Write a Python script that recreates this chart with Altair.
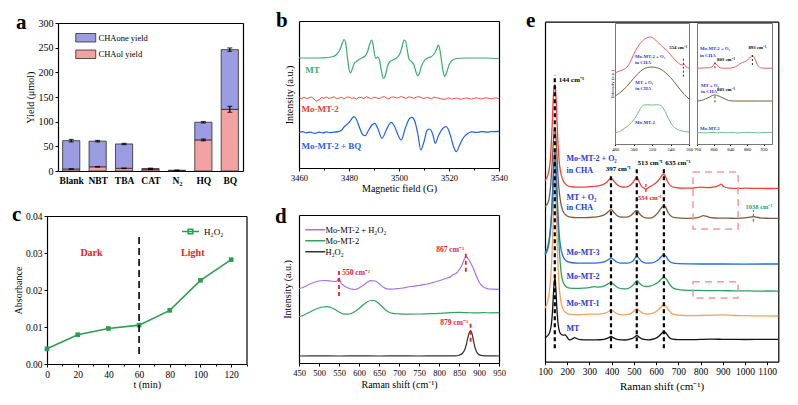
import altair as alt
import pandas as pd

W, H = 798, 405
SERIF = "Liberation Serif"

# ---------------- (a) product yields under scavengers ----------------
a_cats = ["Blank", "NBT", "TBA", "CAT", "N₂", "HQ", "BQ"]
a_total = [61.5, 60.5, 54.8, 4.8, 1.5, 98.8, 246.0]
a_ol = [4.0, 8.5, 5.5, 3.5, 0.5, 63.0, 125.0]
a_total_err = [2.5, 1.5, 1.2, 1.0, 0.4, 1.5, 3.5]
a_ol_err = [0.6, 0.6, 0.6, 0.5, 0.3, 1.8, 6.0]
a_products = ["CHAone yield", "CHAol yield"]
a_fill = ["#9c9ce2", "#f3a2a2"]

# ---------------- (b) EPR spectra (field G, intensity a.u.) ----------------
b_mt = [(3460, 110), (3465, 110), (3470, 110.2), (3473, 111), (3475, 113.5), (3476.5, 119),
        (3477.5, 126), (3478, 128.5), (3478.6, 126), (3479.3, 112), (3480, 99), (3480.6, 95),
        (3481.3, 99), (3482, 104), (3483, 106.5), (3484, 108.5), (3485.5, 110.5), (3486.5, 112),
        (3487.5, 117), (3488.3, 124), (3489, 128), (3489.6, 124), (3490.2, 114), (3490.8, 109.5),
        (3491.5, 111), (3492.2, 108), (3493, 97), (3493.8, 89.5), (3494.5, 92), (3495.3, 101),
        (3496.2, 106), (3497.5, 108), (3499, 110), (3500.3, 114), (3501.2, 121), (3502, 128),
        (3502.6, 127), (3503.3, 118), (3504, 109), (3505, 106.5), (3506, 103), (3506.8, 96),
        (3507.5, 92), (3508.2, 95), (3509, 102), (3510.2, 107.5), (3511.5, 110), (3513, 111.5),
        (3514.3, 115), (3515.2, 120), (3515.7, 123), (3516.3, 119), (3517, 107), (3517.7, 96),
        (3518.3, 91.5), (3519, 95), (3520, 103), (3521.2, 107.5), (3523, 109.5), (3526, 110),
        (3530, 110), (3535, 110), (3540, 109.5)]
b_momt2_start = 3460
b_momt2 = [70.5, 69.2, 70.8, 69.5, 70.1, 71.0, 68.9, 66.8, 68.2, 70.4,
           69.8, 70.9, 69.6, 70.3, 71.2, 69.4, 70.0, 70.7, 69.3, 70.6,
           71.1, 69.7, 70.2, 69.0, 70.8, 70.4, 69.5, 71.3, 70.1, 69.6,
           70.9, 70.2, 69.4, 70.7, 71.4, 70.0, 69.5, 70.8, 71.0, 69.9,
           70.6, 71.5, 70.3, 69.8, 71.2, 70.5, 69.7, 70.9, 71.3, 70.2,
           69.4, 70.6, 70.1, 69.3, 70.8, 70.4, 69.6, 69.1, 68.5, 69.4,
           70.2, 68.8, 69.5, 70.0, 69.2, 68.7, 69.6, 70.1, 69.4, 68.9,
           69.7, 70.3, 69.5, 69.0, 69.8, 70.2, 69.6, 69.1, 69.9, 70.1, 69.4]
b_bq = [(3460, 35.5), (3461.5, 36.3), (3463, 35.2), (3464.5, 35.9), (3466.3, 34.6), (3468, 35.9),
        (3469.5, 35.1), (3471, 36.2), (3472.5, 35.4), (3474.3, 35.8), (3476, 36.6), (3476.9, 37.4),
        (3478, 41), (3478.9, 43), (3480.3, 46.3), (3481.3, 50), (3482, 51.3), (3482.9, 49),
        (3484.3, 39.7), (3485.6, 33), (3486.5, 32.3), (3487.9, 38), (3489.2, 43), (3490.3, 44.7),
        (3491.6, 39), (3493.2, 29.7), (3494.9, 38), (3496.9, 45.7), (3498.3, 41.3), (3499.6, 33),
        (3500.9, 28), (3502.5, 39.7), (3504.3, 49.7), (3505.2, 50.7), (3506.3, 47), (3507.6, 33),
        (3508.7, 18), (3510, 26.3), (3511.3, 38), (3512.3, 39), (3513.6, 33), (3514.5, 24.7),
        (3515.9, 33), (3517.6, 39.7), (3518.9, 41.3), (3520.3, 34.7), (3521.6, 23), (3522.9, 16.3),
        (3524.3, 23), (3525.6, 29.7), (3527.6, 34.7), (3529, 36.2), (3531, 35.5), (3533, 36.4),
        (3535.6, 35.8), (3537, 36.5), (3538.9, 36.3), (3540, 36.8)]

# ---------------- (c) H2O2 detection ----------------
c_time = [0, 20, 40, 60, 80, 100, 120]
c_absorbance = [0.0041, 0.0079, 0.0096, 0.0105, 0.0145, 0.0226, 0.0282]

# ---------------- (d) Raman, H2O2 adsorption ----------------
d_momt2_h2o2 = [(450, 74.5), (460, 75.5), (470, 77.5), (480, 79.5), (490, 81), (500, 82), (510, 82.5),
                (520, 82.3), (530, 82), (540, 81.5), (545, 82), (548, 84), (550, 85), (552, 83.5),
                (555, 80), (560, 78), (570, 75.5), (580, 74), (590, 73.5), (600, 75), (610, 77.5),
                (620, 80.5), (630, 82.3), (640, 82), (650, 79.5), (660, 76), (670, 74.2), (680, 73.8),
                (690, 74.2), (700, 74.5), (710, 75), (720, 75.8), (730, 76.5), (740, 76.8), (750, 77.5),
                (760, 78.3), (770, 79), (780, 80), (790, 81), (800, 82.2), (810, 83.5), (820, 85),
                (830, 86.5), (835, 88.5), (840, 89), (845, 90.5), (850, 93), (855, 96), (860, 100.5),
                (864, 104.5), (867, 106.3), (871, 105.3), (876, 102.5), (881, 98.5), (886, 94.5),
                (891, 89.5), (896, 84.5), (901, 80.5), (908, 77), (916, 75), (925, 74), (935, 73.8),
                (950, 73.6)]
d_momt2 = [(450, 46.5), (460, 47.5), (470, 49.5), (480, 51.5), (490, 53.5), (500, 55), (510, 56),
           (520, 56.3), (530, 55.5), (540, 53.5), (550, 51), (560, 49.2), (570, 48.8), (580, 49.5),
           (590, 51.5), (600, 54.5), (610, 58), (620, 61), (630, 62.5), (637, 62.5), (645, 61),
           (655, 57.5), (665, 53.5), (675, 50.8), (685, 49.6), (700, 49.2), (720, 48.9), (750, 49),
           (780, 49.3), (800, 49.7), (820, 50.2), (850, 50.6), (870, 50.4), (890, 50.1), (910, 50.3),
           (930, 50.2), (950, 50.3)]
d_h2o2 = [(450, 7), (500, 7.1), (550, 7), (600, 7.1), (650, 7), (700, 7.1), (750, 7), (800, 7.1),
          (840, 7.2), (850, 7.8), (858, 9.5), (864, 13), (868, 18), (872, 25), (876, 30.5), (879, 32.3),
          (882, 30), (885, 25), (889, 17), (893, 12), (898, 9), (905, 7.6), (915, 7.2), (930, 7.1),
          (950, 7)]
d_series = ["Mo-MT-2 + H₂O₂", "Mo-MT-2", "H₂O₂"]
d_colors = ["#a873e8", "#2fa35f", "#333333"]

# ---------------- (e) Raman, main spectra ----------------
e_momt2_o2 = [(100, 181), (115, 188), (125, 205), (132, 235), (137, 262), (141, 274), (144, 277),
              (147, 273), (151, 258), (156, 230), (162, 205), (170, 190), (180, 182), (195, 177),
              (215, 175), (240, 174.5), (270, 174.5), (300, 175), (330, 175.5), (360, 177), (380, 180),
              (392, 183), (398, 183.5), (405, 182), (420, 178), (440, 175), (460, 174.5), (480, 176),
              (495, 179), (507, 183), (513, 184.5), (520, 182), (530, 177), (545, 173.5), (554, 172.5),
              (565, 174), (580, 176), (600, 179), (615, 182.5), (625, 186), (633, 187.5), (640, 186),
              (650, 181), (665, 176), (690, 174), (720, 173.5), (760, 173.5), (800, 174.5), (830, 174),
              (860, 174.5), (880, 176), (893, 177.5), (905, 175), (930, 173.5), (970, 173.3),
              (1000, 173.5), (1050, 173.3), (1100, 173.2), (1150, 173.4)]
e_mt_o2 = [(100, 155), (115, 160), (125, 175), (132, 198), (137, 218), (141, 230), (144, 233.7),
           (147, 231), (151, 218), (156, 196), (162, 175), (170, 160), (180, 151), (195, 146.5),
           (215, 144.5), (240, 144), (280, 144), (320, 144.5), (350, 145.5), (375, 148), (390, 151),
           (398, 152), (408, 150), (425, 146), (445, 144.5), (465, 144.5), (485, 146), (500, 149),
           (510, 151), (516, 151), (525, 148), (540, 145), (555, 143.8), (570, 143.5), (590, 145),
           (605, 148), (618, 152), (628, 155), (635, 156), (642, 155), (652, 150), (665, 146),
           (685, 144), (710, 143.5), (740, 143.4), (770, 143.5), (795, 144.5), (812, 146), (825, 145.5),
           (845, 144), (880, 143.5), (920, 143.5), (960, 143.4), (1000, 143.8), (1025, 144.5),
           (1038, 145.2), (1050, 144.5), (1075, 143.6), (1110, 143.4), (1150, 143.3)]
e_momt3 = [(100, 107), (112, 112), (122, 125), (130, 148), (136, 180), (140, 200), (144, 210),
           (148, 203), (152, 183), (157, 155), (163, 130), (170, 115), (180, 106), (195, 101),
           (215, 99.2), (250, 98.6), (300, 98.6), (340, 98.8), (370, 100), (388, 102.5), (397, 103.8),
           (406, 102.5), (420, 100), (440, 98.6), (470, 98.5), (495, 100.5), (507, 104), (514, 105.7),
           (522, 103.5), (535, 100.2), (555, 98.6), (580, 98.8), (600, 100.5), (615, 103), (627, 106),
           (635, 107.4), (643, 106), (655, 101.5), (670, 99), (700, 98), (750, 97.8), (800, 97.7),
           (900, 97.7), (1000, 97.6), (1100, 97.7), (1150, 97.7)]
e_momt2 = [(100, 108), (112, 115), (122, 128), (130, 150), (136, 178), (140, 195), (144, 201),
           (148, 195), (152, 176), (157, 148), (163, 118), (170, 95), (178, 82), (190, 76), (210, 73.6),
           (240, 73.3), (270, 73.5), (300, 74), (320, 75), (340, 74.5), (365, 75.5), (385, 78),
           (397, 79.2), (408, 77.5), (425, 74.5), (445, 73), (465, 72.8), (485, 74.5), (500, 77.5),
           (510, 80.5), (515, 81), (523, 79), (535, 76.5), (555, 75.2), (575, 75.8), (595, 77.5),
           (612, 80), (625, 83), (635, 84.4), (645, 83), (658, 78.5), (672, 74.5), (690, 72.5),
           (720, 71.5), (760, 71.2), (800, 71.3), (850, 71), (900, 71.1), (950, 70.8), (1000, 70.9),
           (1050, 70.6), (1100, 70.7), (1150, 70.5)]
e_momt1 = [(100, 53.7), (112, 60), (122, 75), (130, 100), (136, 135), (140, 170), (144, 188),
           (148, 175), (152, 140), (157, 105), (163, 78), (170, 62), (180, 53), (195, 49), (215, 47.3),
           (250, 47), (300, 47.5), (340, 47.5), (370, 48.5), (388, 50.5), (397, 51.8), (407, 50.5),
           (425, 47.8), (450, 46.8), (480, 47.5), (500, 50.5), (513, 53.4), (522, 51.5), (540, 48.5),
           (560, 47.5), (585, 48.5), (605, 51), (622, 54.5), (635, 57.4), (645, 55.5), (658, 51),
           (675, 47.5), (700, 46.5), (750, 46), (800, 46.2), (850, 46.5), (900, 46.8), (950, 46.2),
           (1000, 46), (1050, 45.9), (1100, 45.8), (1150, 45.7)]
e_mt = [(100, 23.7), (112, 26), (122, 30), (130, 40), (135, 55), (139, 72), (142, 81), (144, 83.4),
        (146, 82), (149, 72), (153, 55), (158, 40), (163, 32), (170, 28), (180, 26.5), (190, 26.8),
        (198, 25), (206, 22.5), (214, 21.8), (224, 23), (234, 24), (244, 23), (260, 22), (290, 21.8),
        (330, 21.8), (365, 22.3), (385, 23.8), (397, 25.2), (408, 23.8), (430, 22), (460, 21.7),
        (490, 23), (505, 25), (513, 26.2), (522, 24.8), (540, 22.5), (565, 21.8), (595, 23), (615, 26),
        (627, 28.8), (635, 30.3), (645, 28.5), (658, 24.5), (675, 22.5), (700, 22), (750, 22),
        (800, 22.3), (850, 22.5), (900, 22.4), (950, 22.3), (1000, 22.2), (1050, 22.3), (1100, 22.4),
        (1150, 22.4)]
e_peaks = [144, 397, 513, 635]

# inset 1 (480-560 cm-1)
e1_momt2_o2 = [(480, 71), (485, 73), (490, 75), (494, 78), (498, 85), (502, 93), (506, 99), (510, 103.5),
               (514, 106), (518, 107), (522, 105.5), (526, 102), (530, 98.5), (534, 95), (538, 91.5),
               (542, 87), (546, 83), (550, 80), (553, 79), (555, 79.5), (557, 77), (560, 76)]
e1_mt_o2 = [(480, 48), (485, 51), (490, 55), (495, 60), (500, 65.5), (505, 70.5), (510, 74.5), (515, 76.5),
            (520, 77), (525, 76.3), (530, 74.5), (535, 71), (540, 66.5), (545, 61), (550, 55), (555, 49.5),
            (560, 45)]
e1_momt2 = [(480, 11), (485, 12.5), (490, 15.5), (495, 19), (500, 24), (503, 28), (506, 33), (509, 37.5),
            (511, 39), (515, 39.2), (520, 39), (525, 39.2), (529, 38.8), (532, 36), (535, 31), (538, 25),
            (541, 20), (545, 16), (550, 13.5), (555, 12.5), (560, 12)]
# inset 2 (760-940 cm-1)
e2_momt2_o2 = [(760, 75.8), (775, 76), (790, 76.3), (797, 77.5), (800, 79.5), (803, 80.7), (807, 79.5),
               (812, 77), (820, 75.8), (835, 75.8), (848, 76.5), (858, 78.5), (866, 81), (874, 82.3),
               (882, 84), (888, 87), (893, 88.3), (898, 86), (903, 81), (908, 77.5), (915, 76), (925, 75.8),
               (940, 75.8)]
e2_mt_o2 = [(760, 43), (770, 43.5), (780, 45), (790, 47), (797, 48.5), (803, 49), (810, 48.3), (820, 46.5),
            (830, 44.5), (840, 43.2), (850, 43), (880, 43), (910, 43), (940, 43)]
e2_momt2 = [(760, 11.2), (770, 11.5), (780, 11.0), (790, 11.4), (800, 11.6), (810, 11.1), (820, 11.5),
            (830, 11.2), (840, 11.6), (850, 11.3), (860, 11.0), (870, 11.5), (880, 11.7), (890, 11.3),
            (900, 11.4), (910, 11.1), (920, 11.6), (930, 11.4), (940, 11.5)]

# ---------------- panel geometry (data domains -> pixel ranges) ----------------
P = {
    "a": dict(xd=None, xr=[58, 243], yd=[0, 300], yr=[171, 23]),
    "b": dict(xd=[3460, 3540], xr=[299, 499], yd=[0, 147], yr=[168, 21]),
    "c": dict(xd=[0, 130], xr=[47, 246.5], yd=[0, 0.04], yr=[364, 216]),
    "d": dict(xd=[450, 950], xr=[299, 499], yd=[0, 148], yr=[363, 215]),
    "e": dict(xd=[100, 1150], xr=[545, 778.3], yd=[0, 340], yr=[361.7, 21.7]),
    "e1": dict(xd=[480, 560], xr=[615, 689], yd=[0, 121], yr=[144, 23]),
    "e2": dict(xd=[760, 940], xr=[697, 772], yd=[0, 121], yr=[144, 23]),
}

RED_TXT = "#e8231f"
BLUE_TXT = "#2338d8"


def xsc(p):
    return alt.Scale(domain=P[p]["xd"], range=P[p]["xr"], nice=False, zero=False)


def ysc(p):
    return alt.Scale(domain=P[p]["yd"], range=P[p]["yr"], nice=False, zero=False)


def xy(p, xf="x", yf="y"):
    return dict(x=alt.X(f"{xf}:Q", scale=xsc(p), axis=None),
                y=alt.Y(f"{yf}:Q", scale=ysc(p), axis=None))


def curve(p, pts, color, width=1.2, interp="monotone", dash=None):
    kw = dict(color=color, strokeWidth=width, interpolate=interp)
    if dash:
        kw["strokeDash"] = dash
    return alt.Chart(pd.DataFrame(pts, columns=["x", "y"])).mark_line(**kw).encode(**xy(p))


def vmarks(p, rows, color, width, dash):
    df = pd.DataFrame(rows, columns=["x", "y", "y2"])
    return alt.Chart(df).mark_rule(color=color, strokeWidth=width, strokeDash=dash).encode(
        **xy(p), y2="y2:Q")


def notes(p, rows, size, align="left", weight="bold"):
    df = pd.DataFrame(rows, columns=["x", "y", "t", "c"])
    return alt.Chart(df).mark_text(font=SERIF, fontSize=size, fontWeight=weight, align=align,
                                   baseline="middle").encode(
        **xy(p), text="t:N", color=alt.Color("c:N", scale=None))


def axes(p, xaxis, yaxis):
    df = pd.DataFrame({"x": [P[p]["xd"][0]], "y": [P[p]["yd"][0]]})
    return alt.Chart(df).mark_point(opacity=0).encode(
        x=alt.X("x:Q", scale=xsc(p), axis=xaxis), y=alt.Y("y:Q", scale=ysc(p), axis=yaxis))


def hidden_axis(orient, offset, color="black", width=1.2):
    return alt.Axis(orient=orient, offset=offset, labels=False, ticks=False, title=None,
                    domainColor=color, domainWidth=width)


def frame(p, color="black", width=1.2):
    top = min(P[p]["yr"])
    right = P[p]["xr"][1]
    return axes(p, hidden_axis("top", -top, color, width), hidden_axis("right", right - W, color, width))


def minor_ticks(p, values, size=2):
    ax = alt.Axis(orient="bottom", offset=bottom(p), values=values, labels=False, tickSize=size,
                  domain=False, title=None)
    return axes(p, ax, None)


def bottom(p):
    return max(P[p]["yr"]) - H


def left(p):
    return -P[p]["xr"][0]


layers = []

# ================= panel a =================
a_rows = []
for cat, tot, ol in zip(a_cats, a_total, a_ol):
    a_rows.append(dict(cat=cat, product="CHAol yield", lo=0.0, hi=ol))
    a_rows.append(dict(cat=cat, product="CHAone yield", lo=ol, hi=tot))
a_df = pd.DataFrame(a_rows)

a_err_rows, a_cap_rows = [], []
for cat, tot, ol, et, eo in zip(a_cats, a_total, a_ol, a_total_err, a_ol_err):
    for v, e in ((tot, et), (ol, eo)):
        a_err_rows.append(dict(cat=cat, lo=v - e, hi=v + e))
        a_cap_rows.append(dict(cat=cat, v=v - e))
        a_cap_rows.append(dict(cat=cat, v=v + e))


def a_x(axis=None):
    return alt.X("cat:N", sort=a_cats, axis=axis,
                 scale=alt.Scale(domain=a_cats, range=P["a"]["xr"], paddingInner=0.35, paddingOuter=0.175))


def a_y(field, axis=None):
    return alt.Y(field, axis=axis, scale=alt.Scale(domain=P["a"]["yd"], range=P["a"]["yr"], nice=False, zero=False))


layers.append(alt.Chart(a_df).mark_bar(stroke="#2b2b2b", strokeWidth=0.8).encode(
    x=a_x(), y=a_y("hi:Q"), y2="lo:Q",
    color=alt.Color("product:N", scale=alt.Scale(domain=a_products, range=a_fill),
                    legend=alt.Legend(orient="none", legendX=81.5, legendY=33.5, title=None,
                                      symbolType="M-4,-1.7L4,-1.7L4,1.7L-4,1.7Z", symbolSize=25,
                                      symbolStrokeColor="#2b2b2b", symbolStrokeWidth=0.8,
                                      labelFontSize=8.5, labelOffset=8.5, rowPadding=3.5, padding=0))))
layers.append(alt.Chart(pd.DataFrame(a_err_rows)).mark_rule(color="black", strokeWidth=1.2).encode(
    x=a_x(), y=a_y("lo:Q"), y2="hi:Q"))
layers.append(alt.Chart(pd.DataFrame(a_cap_rows)).mark_tick(color="black", thickness=1.2, size=5).encode(
    x=a_x(), y=a_y("v:Q")))
a_axis_df = pd.DataFrame({"cat": a_cats, "v": [0] * len(a_cats)})
layers.append(alt.Chart(a_axis_df).mark_point(opacity=0).encode(
    x=a_x(alt.Axis(orient="bottom", offset=bottom("a"), ticks=False, labelAngle=0, labelFontWeight="bold",
                   labelFontSize=9.5, labelPadding=4, title=None)),
    y=a_y("v:Q", alt.Axis(orient="left", offset=left("a"), values=[0, 50, 100, 150, 200, 250, 300],
                          tickSize=3, labelFontSize=10, labelPadding=2, title="Yield (μmol)",
                          titleFontSize=10, titlePadding=3))))
layers.append(alt.Chart(a_axis_df).mark_point(opacity=0).encode(
    x=a_x(hidden_axis("top", -min(P["a"]["yr"]))),
    y=a_y("v:Q", hidden_axis("right", P["a"]["xr"][1] - W))))

# ================= panel b =================
b_red_pts = [(b_momt2_start + i, v) for i, v in enumerate(b_momt2)]
layers.append(curve("b", b_mt, "#3aae6b", 1.2))
layers.append(curve("b", b_red_pts, "#ee3b36", 0.9, interp="linear"))
layers.append(curve("b", b_bq, "#1f63dc", 1.2))
layers.append(notes("b", [(3462.5, 98.5, "MT", "#3aae6b"),
                          (3461, 59.5, "Mo-MT-2", "#ee3b36"),
                          (3461, 22, "Mo-MT-2 + BQ", "#1f63dc")], 9))
layers.append(axes("b",
                   alt.Axis(orient="bottom", offset=bottom("b"), values=[3460, 3480, 3500, 3520, 3540],
                            format="d", tickSize=3, labelFontSize=8.5, labelPadding=2,
                            title="Magnetic field (G)", titleFontSize=10, titlePadding=2),
                   alt.Axis(orient="left", offset=left("b"), labels=False, ticks=False,
                            title="Intensity (a.u.)", titleFontSize=10, titlePadding=5)))
layers.append(minor_ticks("b", [3470, 3490, 3510, 3530]))
layers.append(frame("b"))

# ================= panel c =================
c_green = "#2b9e52"
c_df = pd.DataFrame({"x": c_time, "y": c_absorbance, "s": ["H₂O₂"] * len(c_time)})
layers.append(alt.Chart(c_df).mark_line(strokeWidth=1.6).encode(
    **xy("c"),
    color=alt.Color("s:N", scale=alt.Scale(domain=["H₂O₂"], range=[c_green]),
                    legend=alt.Legend(orient="none", legendX=186, legendY=227, title=None,
                                      symbolType="M-3.4,0L3.4,0M-0.9,-0.9L0.9,-0.9L0.9,0.9L-0.9,0.9Z",
                                      symbolSize=25, symbolStrokeWidth=1.6, labelFontSize=9,
                                      labelOffset=9, padding=0))))
layers.append(alt.Chart(c_df).mark_point(shape="square", filled=True, size=22, opacity=1,
                                         color=c_green).encode(**xy("c")))
layers.append(vmarks("c", [(60, 0.0027, 0.0349)], "black", 1.6, [7, 4]))
layers.append(notes("c", [(29, 0.030, "Dark", RED_TXT), (95, 0.030, "Light", RED_TXT)], 10, align="center"))
layers.append(axes("c",
                   alt.Axis(orient="bottom", offset=bottom("c"), values=[0, 20, 40, 60, 80, 100, 120],
                            format="d", tickSize=3, labelFontSize=9.5, labelPadding=2, title="t (min)",
                            titleFontSize=10, titlePadding=1),
                   alt.Axis(orient="left", offset=left("c"), values=[0, 0.01, 0.02, 0.03, 0.04], format=".2f",
                            tickSize=3, labelFontSize=9.5, labelPadding=2, title="Absorbance",
                            titleFontSize=10, titlePadding=2)))
layers.append(minor_ticks("c", [10, 30, 50, 70, 90, 110, 130]))
layers.append(frame("c"))

# ================= panel d =================
d_rows = []
for name, pts in zip(d_series, [d_momt2_h2o2, d_momt2, d_h2o2]):
    for x, y in pts:
        d_rows.append(dict(x=x, y=y, s=name))
layers.append(alt.Chart(pd.DataFrame(d_rows)).mark_line(strokeWidth=1.2, interpolate="monotone").encode(
    **xy("d"),
    color=alt.Color("s:N", scale=alt.Scale(domain=d_series, range=d_colors),
                    legend=alt.Legend(orient="none", legendX=311, legendY=225.5, title=None,
                                      symbolType="M-4,0L4,0", symbolSize=25, symbolStrokeWidth=1.5,
                                      labelFontSize=8.5, labelOffset=6, rowPadding=2, padding=0))))
layers.append(vmarks("d", [(550, 67, 94.7), (867, 91.3, 109.7), (879, 21.3, 39.7)], RED_TXT, 1.8, [4, 3]))
layers.append(notes("d", [(558, 89.7, "550 cm⁻¹", RED_TXT)], 7.5))
layers.append(notes("d", [(863, 113.5, "867 cm⁻¹", RED_TXT), (873, 40.3, "879 cm⁻¹", RED_TXT)], 7.5,
                    align="right"))
layers.append(axes("d",
                   alt.Axis(orient="bottom", offset=bottom("d"),
                            values=[450, 500, 550, 600, 650, 700, 750, 800, 850, 900, 950],
                            format="d", tickSize=3, labelFontSize=8.5, labelPadding=2,
                            title="Raman shift (cm⁻¹)", titleFontSize=10, titlePadding=3),
                   alt.Axis(orient="left", offset=left("d"), labels=False, ticks=False,
                            title="Intensity (a.u.)", titleFontSize=10, titlePadding=7)))
layers.append(frame("d"))

# ================= panel e =================
e_series = [(e_mt, "#141414"), (e_momt1, "#f6a25e"), (e_momt2, "#2ca25f"),
            (e_momt3, "#1f6fdc"), (e_mt_o2, "#7d5c3b"), (e_momt2_o2, "#f0413a")]
for pts, col in e_series:
    layers.append(curve("e", pts, col, 1.3))
e_tops = [286.7, 186.7, 193.4, 193.4]
layers.append(vmarks("e", [(x, 13.4, t) for x, t in zip(e_peaks, e_tops)], "black", 2.2, [4, 3]))
layers.append(vmarks("e", [(554, 169.7, 178.7)], RED_TXT, 1.2, [3, 2]))
layers.append(vmarks("e", [(1038, 140, 151.7)], "#2ca25f", 1.2, [3, 2]))
e_boxes = pd.DataFrame([(766, 969, 132.7, 189.7), (766, 969, 63.7, 80)], columns=["x", "x2", "y", "y2"])
layers.append(alt.Chart(e_boxes).mark_rect(fillOpacity=0, stroke="#f39a9a", strokeWidth=1.5,
                                           strokeDash=[7, 5]).encode(**xy("e"), x2="x2:Q", y2="y2:Q"))
layers.append(notes("e", [(162, 281.7, "144 cm⁻¹", "black"), (373, 192.4, "397 cm⁻¹", "black"),
                          (516, 198.4, "513 cm⁻¹", "black"), (641, 198.4, "635 cm⁻¹", "black")], 7))
layers.append(notes("e", [(572, 164, "554 cm⁻¹", RED_TXT), (1063, 155, "1038 cm⁻¹", "#2ca25f")], 6.5,
                    align="center"))
layers.append(notes("e", [(197, 202.7, "Mo-MT-2 + O₂", BLUE_TXT), (197, 190.7, "in CHA", BLUE_TXT),
                          (197, 163.4, "MT + O₂", BLUE_TXT), (197, 153.4, "in CHA", BLUE_TXT),
                          (197, 108.4, "Mo-MT-3", BLUE_TXT), (197, 85, "Mo-MT-2", BLUE_TXT),
                          (197, 57.4, "Mo-MT-1", BLUE_TXT), (197, 32.7, "MT", BLUE_TXT)], 8))
layers.append(axes("e",
                   alt.Axis(orient="bottom", offset=bottom("e"),
                            values=[100, 200, 300, 400, 500, 600, 700, 800, 900, 1000, 1100],
                            format="d", tickSize=3, labelFontSize=9.5, labelPadding=2,
                            title="Raman shift (cm⁻¹)", titleFontSize=11, titlePadding=4),
                   hidden_axis("left", left("e"))))
layers.append(frame("e"))

# inset 1
layers.append(curve("e1", e1_mt_o2, "#7d5c3b", 1.0))
layers.append(curve("e1", e1_momt2, "#6cc08b", 1.0))
layers.append(curve("e1", e1_momt2_o2, "#f0605a", 1.0))
layers.append(vmarks("e1", [(554, 67.3, 86)], "black", 0.8, [2, 2]))
layers.append(notes("e1", [(501.6, 87.3, "Mo-MT-2 + O₂", BLUE_TXT), (501.6, 81.3, "in CHA", BLUE_TXT),
                           (502, 61, "MT + O₂", BLUE_TXT), (502, 55, "in CHA", BLUE_TXT),
                           (501.6, 21, "Mo-MT-2", BLUE_TXT)], 4.8))
layers.append(notes("e1", [(538.7, 95.7, "554 cm⁻¹", "black")], 4.8))
layers.append(axes("e1",
                   alt.Axis(orient="bottom", offset=bottom("e1"), values=[480, 500, 520, 540, 560],
                            format="d", tickSize=1.5, labelFontSize=4.8, labelPadding=1, title=None,
                            domainColor="#555555", domainWidth=0.8),
                   alt.Axis(orient="left", offset=left("e1"), labels=False, ticks=False,
                            title="Intensity (a.u.)", titleFontSize=4.8, titlePadding=1,
                            domainColor="#555555", domainWidth=0.8)))
layers.append(frame("e1", "#555555", 0.8))

# inset 2
layers.append(curve("e2", e2_mt_o2, "#7d5c3b", 1.0))
layers.append(curve("e2", e2_momt2, "#6cc08b", 1.0))
layers.append(curve("e2", e2_momt2_o2, "#f0605a", 1.0))
layers.append(vmarks("e2", [(803, 75.7, 82.3), (893, 79, 90.7), (803, 41.7, 49)], "black", 0.8, [2, 2]))
layers.append(notes("e2", [(767, 95, "Mo-MT-2 + O₂", BLUE_TXT), (767, 88, "in CHA", BLUE_TXT),
                           (769.6, 58, "MT + O₂", BLUE_TXT), (769.6, 52, "in CHA", BLUE_TXT),
                           (767, 15, "Mo-MT-2", BLUE_TXT)], 4.8))
layers.append(notes("e2", [(808, 84, "803 cm⁻¹", "black"), (808, 54, "803 cm⁻¹", "black")], 4.8))
layers.append(notes("e2", [(905, 95.7, "893 cm⁻¹", "black")], 4.8, align="center"))
layers.append(axes("e2",
                   alt.Axis(orient="bottom", offset=bottom("e2"), values=[760, 800, 840, 880, 920],
                            format="d", tickSize=1.5, labelFontSize=4.8, labelPadding=1, title=None,
                            domainColor="#555555", domainWidth=0.8),
                   hidden_axis("left", left("e2"), "#555555", 0.8)))
layers.append(frame("e2", "#555555", 0.8))

# ================= panel letters =================
letters = pd.DataFrame({"px": [16, 276, 12, 275, 526], "py": [29, 27, 221, 223, 27],
                        "t": ["a", "b", "c", "d", "e"]})
layers.append(alt.Chart(letters).mark_text(font=SERIF, fontSize=21, fontWeight="bold", align="left",
                                           baseline="alphabetic", color="black").encode(
    x=alt.X("px:Q", scale=None, axis=None), y=alt.Y("py:Q", scale=None, axis=None), text="t:N"))

chart = alt.layer(*layers).resolve_scale(
    x="independent", y="independent", color="independent"
).properties(
    width=W, height=H, padding=0, autosize=alt.AutoSizeParams(type="none")
).configure_view(stroke=None).configure_axis(
    grid=False, labelFont=SERIF, titleFont=SERIF, labelColor="black", titleColor="black",
    tickColor="black", domainColor="black", domainWidth=1.2, tickWidth=1, labelFlush=False,
    labelOverlap=False, titleFontWeight="normal"
).configure_legend(labelFont=SERIF, labelColor="black")

chart.save("out.html", embed_options={"renderer": "svg", "actions": False})
